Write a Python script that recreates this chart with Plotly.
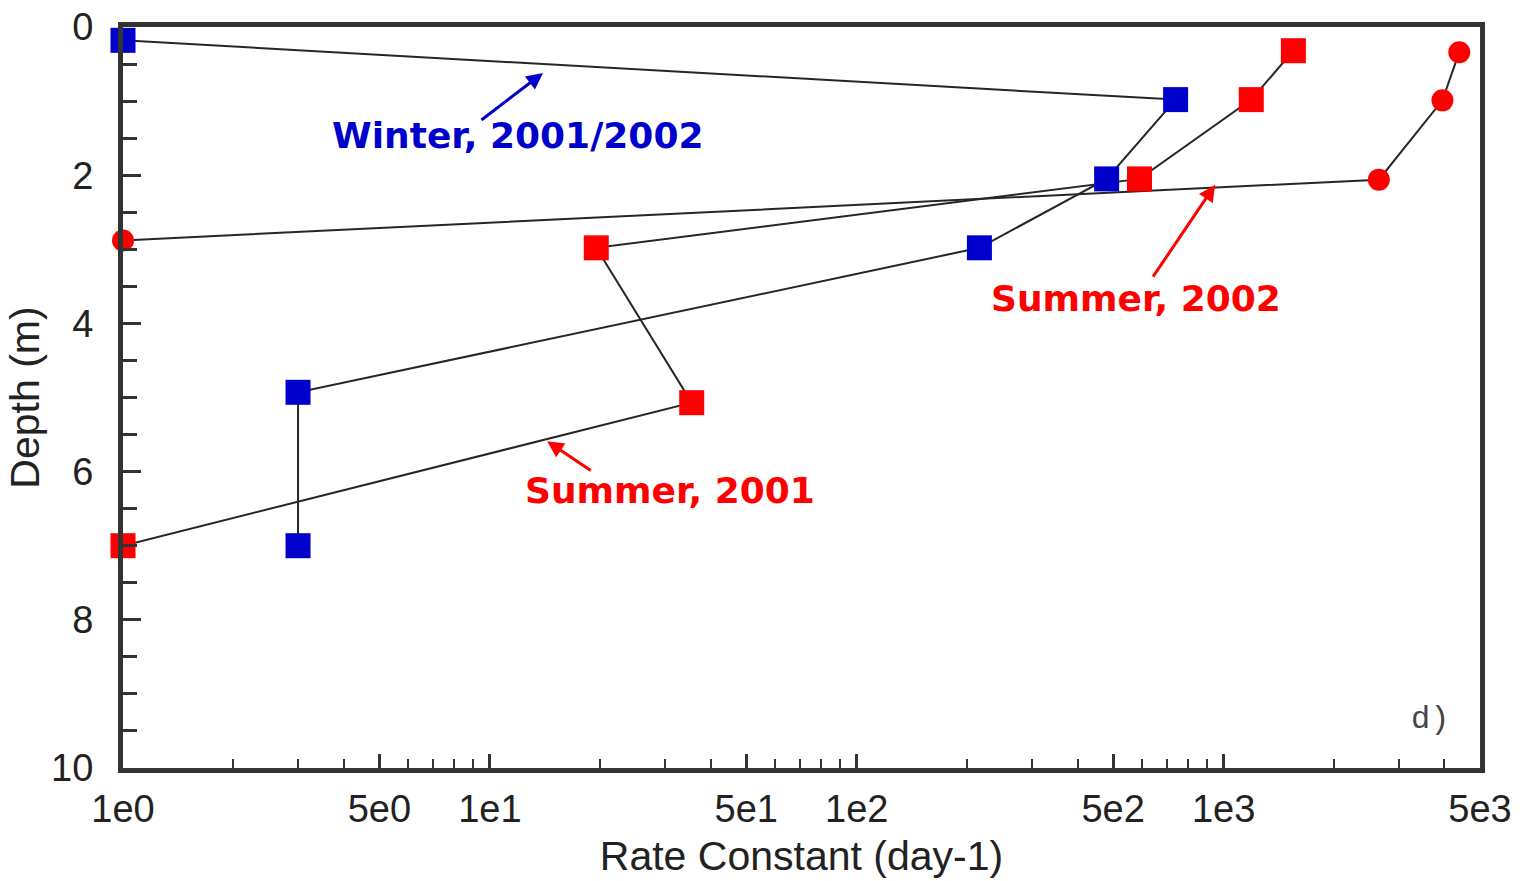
import math
import plotly.graph_objects as go

# ---- data ----
winter_rate = [1.0, 740, 480, 216, 3.0, 3.0]
winter_depth = [0.18, 0.98, 2.05, 2.98, 4.93, 7.0]

summer2001_rate = [1550, 1190, 590, 19.5, 35.5, 1.0]
summer2001_depth = [0.32, 0.98, 2.05, 2.98, 5.07, 7.0]

summer2002_rate = [4390, 3950, 2650, 1.0]
summer2002_depth = [0.34, 0.99, 2.06, 2.88]

x_tick_vals = [1, 5, 10, 50, 100, 500, 1000, 5000]
x_tick_text = ["1e0", "5e0", "1e1", "5e1", "1e2", "5e2", "1e3", "5e3"]
x_minor_vals = [m * 10 ** d for d in range(4) for m in range(2, 10) if m * 10 ** d < 5000 and m != 5]
y_tick_vals = [0, 2, 4, 6, 8, 10]

BLUE = "#0000CC"
RED = "#FF0000"
LINE = "#262626"
AX = "#333333"
FONT = "Liberation Sans, Arial, sans-serif"

fig = go.Figure()

series = [
    (winter_rate, winter_depth, "square", BLUE, 25, "Winter, 2001/2002"),
    (summer2001_rate, summer2001_depth, "square", RED, 25, "Summer, 2001"),
    (summer2002_rate, summer2002_depth, "circle", RED, 22, "Summer, 2002"),
]

# connecting lines first
for xs, ys, sym, col, sz, name in series:
    fig.add_trace(go.Scatter(x=xs, y=ys, mode="lines", line=dict(color=LINE, width=2),
                             showlegend=False, hoverinfo="skip", cliponaxis=False))
# markers on top
for xs, ys, sym, col, sz, name in series:
    fig.add_trace(go.Scatter(x=xs, y=ys, mode="markers", name=name,
                             marker=dict(symbol=sym, color=col, size=sz, line=dict(width=0)),
                             showlegend=False, cliponaxis=False))

lg = math.log10
# text labels
labels = [
    ("Winter, 2001/2002", 1.077, 1.46, BLUE),
    ("Summer, 2002", 2.762, 3.66, RED),
    ("Summer, 2001", 1.491, 6.25, RED),
]
for t, lx, y, c in labels:
    fig.add_annotation(x=lx, y=y, xref="x", yref="y", text="<b>" + t + "</b>", showarrow=False,
                       font=dict(family="DejaVu Sans, sans-serif", size=36, color=c))

# arrows (head, tail) in log10(x), depth
arrows = [
    ((1.145, 0.62), (0.973, 1.27), BLUE),
    ((2.977, 2.13), (2.805, 3.39), RED),
    ((1.156, 5.59), (1.279, 6.00), RED),
]
for (hx, hy), (tx, ty), c in arrows:
    fig.add_annotation(x=hx, y=hy, ax=tx, ay=ty, xref="x", yref="y", axref="x", ayref="y",
                       text="", showarrow=True, arrowhead=2, arrowsize=1.1, arrowwidth=3,
                       arrowcolor=c, standoff=0, startstandoff=0)

fig.add_annotation(x=3.563, y=9.35, xref="x", yref="y", text="d)", showarrow=False,
                   font=dict(family="Liberation Mono, Courier New, monospace", size=32, color="#444"))

fig.update_layout(
    width=1525, height=881,
    margin=dict(l=123, r=45, t=27, b=113),
    paper_bgcolor="white", plot_bgcolor="white",
    font=dict(family=FONT, color="#222"),
    xaxis=dict(
        type="log", range=[0, lg(5000)], automargin=False,
        tickmode="array", tickvals=x_tick_vals, ticktext=x_tick_text,
        ticks="inside", ticklen=14, tickwidth=2.5, tickcolor=AX,
        minor=dict(tickmode="array", tickvals=x_minor_vals, ticks="inside", ticklen=9,
                   tickwidth=2, tickcolor=AX, showgrid=False),
        showline=True, linecolor=AX, linewidth=5, mirror=True,
        showgrid=False, zeroline=False,
        tickfont=dict(size=38, color="#222"),
        ticklabelstandoff=3,
        title=dict(text="Rate Constant (day-1)", font=dict(size=41, color="#222"), standoff=14),
    ),
    yaxis=dict(
        range=[10, 0], automargin=False,
        tickmode="array", tickvals=y_tick_vals,
        ticks="inside", ticklen=18, tickwidth=3, tickcolor=AX,
        minor=dict(dtick=0.5, ticks="inside", ticklen=14, tickwidth=3, tickcolor=AX, showgrid=False),
        showline=True, linecolor=AX, linewidth=5, mirror=True,
        showgrid=False, zeroline=False,
        tickfont=dict(size=38, color="#222"),
        ticklabelstandoff=17,
        title=dict(text="Depth (m)", font=dict(size=41, color="#222"), standoff=0),
    ),
)

fig.write_html("out.html")
